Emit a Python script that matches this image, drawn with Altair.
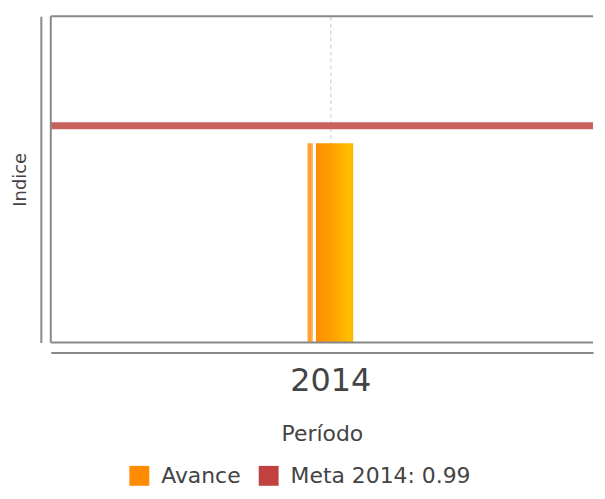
import altair as alt
import pandas as pd

periods = [2014]
avance = [0.91]
meta_value = 0.99
series = ["Avance", "Meta 2014: 0.99"]
series_colors = ["#ff8c00", "#c0413f"]

bars = pd.DataFrame({"Periodo": periods, "Avance": avance})
meta = pd.DataFrame({"Meta": [meta_value]})
legend_df = pd.DataFrame({"Serie": series, "Periodo": [2014, 2014], "v": [0, 0]})
x_min, x_max = 2013, 2014.94
y_min, y_max = 0, 1.49
border_h = pd.DataFrame({"y": [y_max]})
border_v = pd.DataFrame({"x": [x_min]})

font = "DejaVu Sans"

x_scale = alt.Scale(domain=[x_min, x_max], nice=False, zero=False, padding=0)
y_scale = alt.Scale(domain=[y_min, y_max], nice=False, padding=0)

gradient = alt.Gradient(
    gradient="linear",
    x1=0, x2=1, y1=0, y2=0,
    stops=[
        alt.GradientStop(offset=0.0, color="#ffb050"),
        alt.GradientStop(offset=0.06, color="#ff9a20"),
        alt.GradientStop(offset=0.12, color="#ffc070"),
        alt.GradientStop(offset=0.13, color="#ffffff"),
        alt.GradientStop(offset=0.18, color="#ffffff"),
        alt.GradientStop(offset=0.19, color="#ff8c00"),
        alt.GradientStop(offset=0.55, color="#ffa000"),
        alt.GradientStop(offset=0.93, color="#ffc000"),
        alt.GradientStop(offset=1.0, color="#ffb000"),
    ],
)

x_axis = alt.Axis(
    title="Período", values=[2014], format="d", ticks=False, tickSize=0,
    labelFontSize=32, labelFont=font, labelColor="#444", labelPadding=13,
    titleFontSize=22, titleFont=font, titleColor="#444", titleFontWeight="normal",
    titlePadding=27, domainColor="#888", domainWidth=2, offset=10,
    grid=True, gridDash=[4, 3], gridColor="#cccccc", gridWidth=1,
)
y_axis = alt.Axis(
    title="Indice", labels=False, ticks=False, tickSize=0, grid=False,
    titleFontSize=18, titleFont=font, titleColor="#444", titleFontWeight="normal",
    titlePadding=11, domainColor="#888", domainWidth=2, offset=10,
)

bar_layer = alt.Chart(bars).mark_bar(size=46, fill=gradient).encode(
    x=alt.X("Periodo:Q", scale=x_scale, axis=x_axis),
    y=alt.Y("Avance:Q", scale=y_scale, axis=y_axis),
)

rule_layer = alt.Chart(meta).mark_rule(color="#c9625f", strokeWidth=7).encode(
    y=alt.Y("Meta:Q", scale=y_scale),
)

top_border = alt.Chart(border_h).mark_rule(color="#888", strokeWidth=2).encode(
    y=alt.Y("y:Q", scale=y_scale),
)
left_border = alt.Chart(border_v).mark_rule(color="#888", strokeWidth=2).encode(
    x=alt.X("x:Q", scale=x_scale),
)
bottom_border = alt.Chart(pd.DataFrame({"y": [y_min]})).mark_rule(color="#888", strokeWidth=2).encode(
    y=alt.Y("y:Q", scale=y_scale),
)

legend_layer = alt.Chart(legend_df).mark_square(opacity=0).encode(
    x=alt.X("Periodo:Q", scale=x_scale),
    y=alt.Y("v:Q", scale=y_scale),
    color=alt.Color(
        "Serie:N",
        scale=alt.Scale(domain=series, range=series_colors),
        legend=alt.Legend(
            title=None, orient="none", legendX=78, legendY=451,
            direction="horizontal",
            symbolType="square", symbolSize=400, symbolOpacity=1,
            symbolStrokeWidth=0, labelFontSize=22, labelFont=font,
            labelColor="#444", labelOffset=11, columnPadding=17, labelLimit=400,
        ),
    ),
)

chart = alt.layer(
    bar_layer, rule_layer, top_border, left_border, bottom_border, legend_layer
).properties(
    width=545, height=328,
    padding={"left": 4, "top": 6, "right": 0, "bottom": 0},
).configure_view(stroke=None)

chart.save("out.html", embed_options={"renderer": "svg", "actions": False})
